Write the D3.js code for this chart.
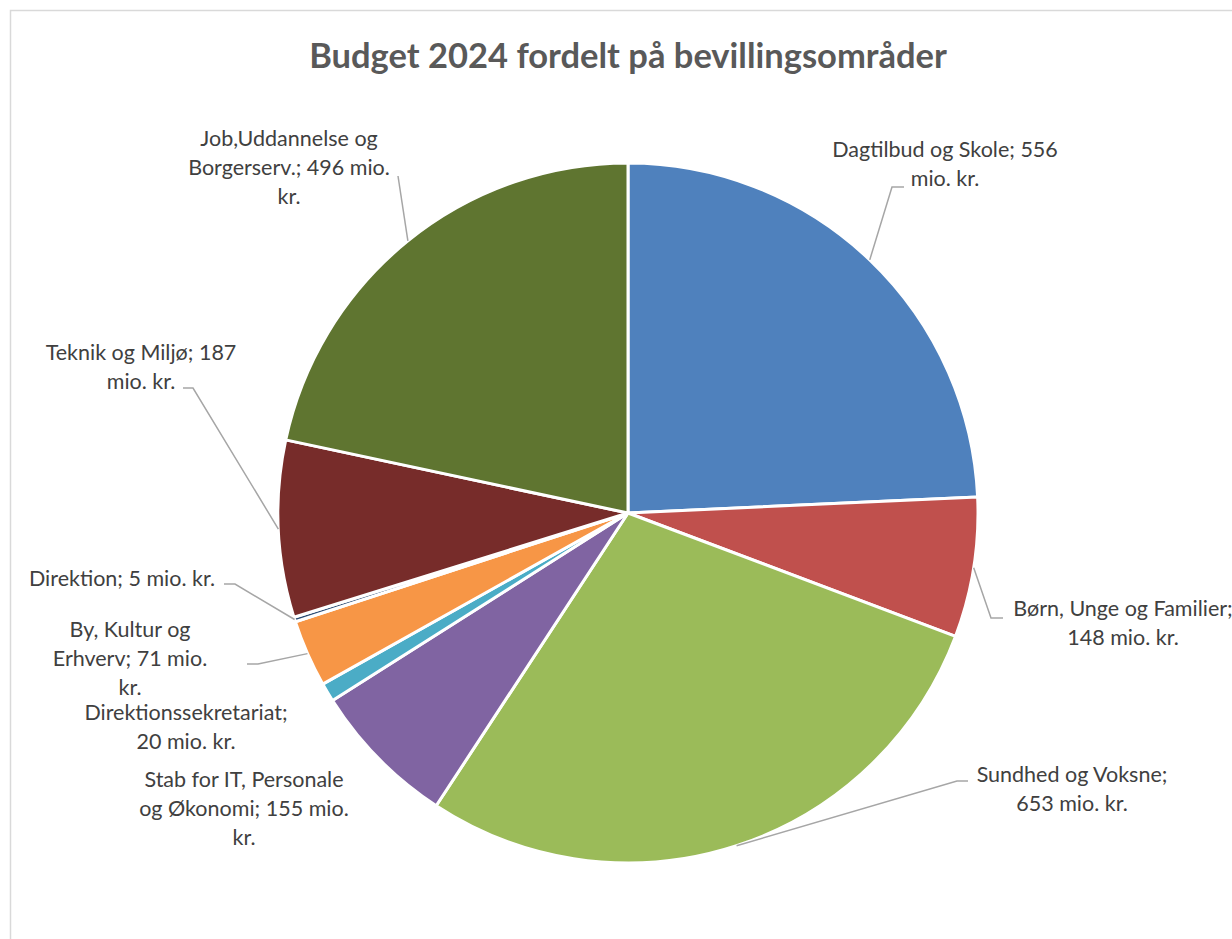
<!DOCTYPE html>
<html>
<head>
<meta charset="utf-8">
<script src="https://cdn.jsdelivr.net/npm/d3@7"></script>
<style>
  html, body { margin: 0; padding: 0; background: #fff; overflow: hidden; }
  svg { display: block; }
</style>
</head>
<body>
<svg id="chart" width="1232" height="939"></svg>
<script>
// data
var categories = ['Dagtilbud og Skole', 'Børn, Unge og Familier', 'Sundhed og Voksne',
	'Stab for IT, Personale og Økonomi', 'Direktionssekretariat', 'By, Kultur og Erhverv',
	'Direktion', 'Teknik og Miljø', 'Job,Uddannelse og Borgerserv.'];
var values = [556, 148, 653, 155, 20, 71, 5, 187, 496];
var unit = 'mio. kr.';
var title = 'Budget 2024 fordelt på bevillingsområder';

var colors = ['#4f81bd', '#c0504d', '#9bbb59', '#8064a2', '#4bacc6', '#f79646', '#2c4d75', '#772c2a', '#5f7530'];

// label placement (center x, first baseline, words per line, leader elbow + end)
var labelLayout = [
	{ x: 945, y: 157, lines: [4, 2], elbow: [892, 187], end: [904, 187] },
	{ x: 1123, y: 616, lines: [4, 3], elbow: [991, 618], end: [1003, 618] },
	{ x: 1072, y: 782, lines: [3, 3], elbow: [957, 781], end: [968, 781] },
	{ x: 244, y: 787, lines: [4, 4, 1], elbow: null },
	{ x: 186, y: 720, lines: [1, 3], elbow: null },
	{ x: 130, y: 637, lines: [3, 3, 1], elbow: [258, 664], end: [247, 664] },
	{ x: 122, y: 586, lines: [5], elbow: [235, 584], end: [224, 584] },
	{ x: 141, y: 360, lines: [4, 2], elbow: [193, 388], end: [183, 388] },
	{ x: 289, y: 146, lines: [2, 3, 1], elbow: [398, 176], end: [398, 176] }
];

var svg = d3.select('#chart'),
	cx = 628, cy = 513, radius = 350,
	lineHeight = 29;

svg.append('rect')
	.attr('x', 10.5).attr('y', 10.5)
	.attr('width', 1400).attr('height', 1100)
	.attr('fill', '#fff').attr('stroke', '#d9d9d9').attr('stroke-width', 1.5);

svg.append('text')
	.attr('x', cx).attr('y', 68)
	.attr('text-anchor', 'middle')
	.attr('font-family', 'Lato, "Open Sans", sans-serif')
	.attr('font-weight', 'bold')
	.attr('font-size', 34.5)
	.attr('fill', '#595959')
	.text(title);

var data = categories.map(function(c, i) { return { name: c, value: values[i], i: i }; });

var pie = d3.pie().sort(null).value(function(d) { return d.value; });
var arc = d3.arc().innerRadius(0).outerRadius(radius);
var arcs = pie(data);

var g = svg.append('g').attr('transform', 'translate(' + cx + ',' + cy + ')');

g.selectAll('path.slice')
	.data(arcs)
	.enter().append('path')
	.attr('class', 'slice')
	.attr('d', arc)
	.attr('fill', function(d) { return colors[d.data.i]; })
	.attr('stroke', '#fff')
	.attr('stroke-width', 3)
	.attr('stroke-linejoin', 'round');

// leader lines from slice edge at the mid angle
var leaders = svg.append('g');
arcs.forEach(function(a, i) {
	var lay = labelLayout[i];
	if (!lay.elbow) return;
	var mid = (a.startAngle + a.endAngle) / 2;
	var p0 = [cx + radius * Math.sin(mid), cy - radius * Math.cos(mid)];
	leaders.append('path')
		.attr('d', d3.line()([p0, lay.elbow, lay.end]))
		.attr('fill', 'none')
		.attr('stroke', '#a6a6a6')
		.attr('stroke-width', 1.5);
});

// data labels
var labels = svg.append('g')
	.attr('font-family', 'Lato, "Open Sans", sans-serif')
	.attr('font-size', 21.5)
	.attr('fill', '#404040')
	.attr('text-anchor', 'middle');

arcs.forEach(function(a, i) {
	var lay = labelLayout[i];
	var words = (a.data.name + '; ' + a.data.value + ' ' + unit).split(' ');
	var t = labels.append('text').attr('x', lay.x).attr('y', lay.y);
	var k = 0;
	lay.lines.forEach(function(n, j) {
		t.append('tspan')
			.attr('x', lay.x)
			.attr('y', lay.y + j * lineHeight)
			.text(words.slice(k, k + n).join(' '));
		k += n;
	});
});
</script>
</body>
</html>
